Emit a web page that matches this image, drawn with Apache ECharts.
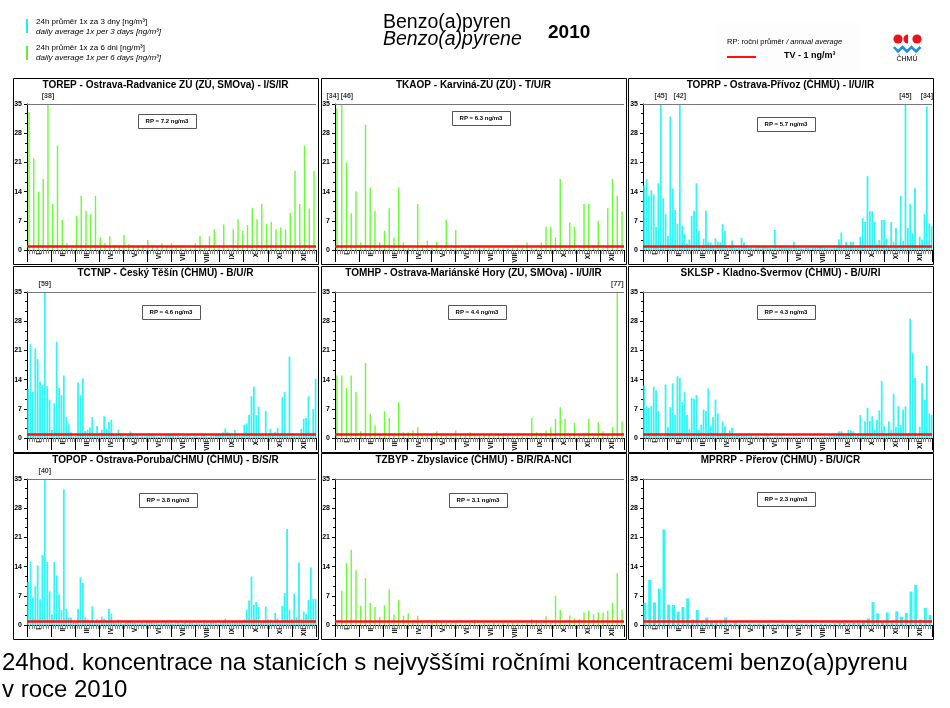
<!DOCTYPE html>
<html><head><meta charset="utf-8">
<script src="https://cdn.jsdelivr.net/npm/echarts@6/dist/echarts.min.js"></script>
<style>html,body{margin:0;padding:0;background:#fff}#c{width:950px;height:708px}</style>
</head><body><div id="c"></div>
<script>
// ---------- data ----------
const MONTHS = ['I','II','III','IV','V','VI','VII','VIII','IX','X','XI','XII'];
const TV = 1;            // target value ng/m3
const Y_MAX = 35, Y_STEP = 7;
const DAYS = 365;

// green stations: 24h average every 6th day (first sample on day index 2)
const TOREP = [33.0,22.0,14.0,17.1,38,11.0,25.0,7.2,1.6,0.5, 8.2,13.0,9.4,8.6,13.0,3.0,1.7,3.3,1.2,0.8,
  3.6,1.4,1.0,1.0,0.8,2.4,1.0,0.8,1.6,0.8, 1.6,0.6,0.6,0.4,0.4,1.6,3.4,0.6,3.3,5.0,
  0.4,6.1,0.4,5.0,7.4,4.6,6.0,10.0,7.4,11.0, 6.2,6.7,5.0,5.4,4.9,8.9,19.0,11.0,25.0,9.9,19.0];
const TKAOP = [34.0,46,21.0,8.8,14.0,1.8,30.0,15.0,9.4,1.8, 4.6,10.0,3.0,15.0,1.8,0.5,0.5,11.0,0.6,2.2,
  0.5,1.9,0.6,7.2,0.4,4.8,0.4,0.5,1.0,0.6, 0.6,0.5,0.5,0.5,0.5,0.4,0.4,0.5,0.6,0.5,
  1.8,0.5,0.4,1.8,5.6,5.6,3.0,17.0,0.4,6.6, 5.6,0.4,11.0,11.0,1.2,7.0,0.4,10.0,17.0,13.0,9.2];
const TOMHP = [15.0,15.0,12.0,15.0,11.0,1.6,18.0,5.8,3.0,1.0, 6.4,4.8,1.0,8.6,1.4,1.4,1.8,2.6,0.6,0.8,
  0.6,1.6,0.8,0.6,0.6,1.8,0.8,0.6,1.4,0.8, 0.6,0.6,0.7,0.4,0.8,0.8,0.4,0.4,0.4,0.4,
  0.4,4.8,1.4,1.2,1.8,2.6,4.6,7.4,4.6,0.8, 3.6,0.6,0.6,4.6,0.4,3.8,1.6,0.8,2.6,77,4.0];
const TZBYP = [0.5,8.2,14.8,18.0,13.1,4.6,11.3,5.3,4.3,1.9, 4.7,8.6,2.5,6.0,2.2,2.8,1.0,2.2,0.8,0.2,
  0.8,1.2,0.6,0.4,0.4,0.4,0.2,0.2,0.4,1.2, 0.2,0.4,0.2,0.4,0.4,0.4,0.4,0.4,0.4,0.2,
  0.4,1.4,1.2,0.4,2.1,0.4,7.0,3.6,0.2,2.3, 1.6,1.4,3.0,3.5,2.6,3.0,3.0,3.5,5.3,12.4,3.7];

// cyan stations: 24h average every 3rd day (first sample on day index 1)
const TOPRP = [15.5,17.0,13.0,14.3,13.3,5.6,16.0,45,12.4,8.6,
  3.4,32.0,14.7,9.6,6.3,42,5.8,3.9,1.6,2.5,
  8.2,9.4,16.0,4.6,1.0,2.7,9.4,1.8,1.8,1.2,
  2.8,2.0,1.8,6.2,4.6,0.5,0.6,2.3,0.5,0.4,
  0.5,2.9,1.8,0.6,0.5,0.5,0.4,0.5,0.6,0.4,
  0.6,0.6,0.5,0.5,0.4,4.8,0.4,0.6,0.7,0.5,
  0.6,0.6,0.5,2.0,0.5,0.6,0.4,0.4,0.5,0.6,0.4,
  0.5,0.5,0.6,0.7,0.6,0.5,0.4,0.5,0.4,0.6,
  0.5,2.5,4.2,0.6,2.0,0.8,2.0,2.0,0.6,0.8,
  3.2,7.7,6.7,17.7,9.3,9.3,6.7,1.4,2.4,7.2,
  7.2,2.8,1.0,6.7,2.0,5.3,1.0,13.0,2.2,45,
  5.3,11.0,4.0,14.8,1.0,3.2,2.5,8.6,34.4,6.4,5.7];
const TCTNP = [11.8,22.5,11.0,21.5,18.9,13.5,12.7,59,12.4,9.2,
  1.9,8.3,23.0,12.0,10.3,15.0,5.0,3.3,1.4,0.4,
  0.5,13.3,10.3,14.3,1.7,1.9,2.6,5.0,1.2,2.9,
  1.2,2.0,5.2,2.2,3.9,4.4,0.8,0.6,2.0,1.0,
  0.5,0.4,0.8,1.6,1.0,0.4,0.8,0.3,0.5,0.4,
  0.6,1.0,0.9,0.5,0.4,0.3,0.5,0.4,0.6,0.8,
  0.6,0.5,0.4,0.5,0.3,0.5,0.4,0.6,0.4,0.3,0.5,
  0.4,0.3,0.5,0.7,0.4,0.3,0.6,0.5,0.8,1.0,
  1.0,1.4,2.3,1.4,0.8,0.5,1.9,1.0,0.6,0.5,
  3.2,3.5,5.6,10.0,12.3,5.5,7.5,1.0,0.8,6.5,
  1.0,2.2,1.0,1.4,2.4,0.8,9.8,11.0,0.6,19.5,
  0.5,0.6,0.4,0.5,2.2,4.6,4.8,10.0,1.0,6.9,14.2];
const SKLSP = [12.6,7.6,7.2,7.7,12.3,11.4,6.5,0.6,0.4,12.8,
  2.6,7.4,13.1,5.6,14.8,14.4,8.6,11.0,5.6,2.1,
  9.6,9.4,10.3,1.9,3.2,6.8,6.5,11.9,3.0,5.0,
  9.2,5.9,1.0,4.0,2.8,1.1,1.8,2.4,0.6,0.8,
  0.9,0.6,0.5,0.8,0.4,0.6,0.3,0.5,0.4,0.3,
  0.3,0.4,0.6,0.3,0.2,0.3,0.4,0.2,0.3,0.2,
  0.2,0.3,0.2,0.3,0.2,0.2,0.3,0.2,0.2,0.3,0.2,
  0.2,0.3,0.2,0.2,0.3,0.4,0.3,0.5,0.4,0.5,
  0.6,1.6,1.6,0.8,0.6,1.9,1.8,1.6,0.6,1.0,
  5.5,1.0,4.0,7.2,4.1,5.2,2.0,4.3,6.6,13.7,
  2.8,1.0,4.0,2.0,10.6,2.6,7.6,3.1,6.8,7.6,
  1.0,28.6,20.5,14.4,0.6,2.7,13.1,9.1,17.3,5.9,5.5];
const TOPOP = [10.3,15.2,6.6,9.4,14.3,6.2,16.8,40,15.1,8.1,
  2.6,15.1,11.9,7.4,3.6,32.5,3.9,1.8,1.8,0.5,
  0.5,3.9,11.4,10.1,1.8,1.3,0.8,4.5,0.8,1.3,
  1.0,2.0,1.5,0.7,3.9,2.7,0.6,0.4,1.3,0.5,
  0.3,0.5,0.8,1.2,0.6,0.5,0.4,0.3,0.5,0.4,
  0.6,0.7,0.5,0.4,0.6,0.3,0.5,0.4,0.6,0.5,
  0.4,0.3,0.4,0.5,0.3,0.4,0.6,0.3,0.5,0.4,0.3,
  0.5,0.4,0.3,0.5,0.4,0.3,0.5,0.6,0.4,0.3,
  0.5,0.8,1.5,0.6,0.5,0.7,0.9,0.6,0.5,0.8,
  1.3,3.7,5.9,11.6,4.8,5.5,4.3,1.0,0.7,4.5,
  1.3,1.3,0.6,2.9,1.5,0.8,4.6,7.7,23.0,3.7,
  1.4,7.5,1.8,15.0,1.4,3.2,2.7,6.0,13.8,6.3,6.2];
// Přerov: every 6th day
const MPRRP = [5.3,10.8,5.4,8.7,22.9, 4.9,4.8,3.2,4.3,6.4, 1.3,3.6,1.0,1.8,0.9,
  0.8,0.7,1.8,0.3,0.8, 0.3,0.2,0.3,0.2,0.3, 0.2,0.3,0.2,0.2,0.3,
  0.2,0.2,0.3,0.2,0.2, 0.2,0.2,0.3,0.2,0.2, 0.4,0.6,0.5,0.4,0.5,0.5,
  0.7,1.6,5.5,2.8,0.8,3.0, 0.8,3.3,2.0,2.9, 8.0,9.6,1.3,4.1,2.4];

const TITLES = [
  'TOREP - Ostrava-Radvanice ZÚ (ZÚ, SMOva) - I/S/IR',
  'TKAOP - Karviná-ZÚ (ZÚ) - T/U/R',
  'TOPRP - Ostrava-Přívoz (ČHMÚ) - I/U/IR',
  'TCTNP - Český Těšín (ČHMÚ) - B/U/R',
  'TOMHP - Ostrava-Mariánské Hory (ZÚ, SMOva) - I/U/IR',
  'SKLSP - Kladno-Švermov (ČHMÚ) - B/U/RI',
  'TOPOP - Ostrava-Poruba/ČHMÚ (ČHMÚ) - B/S/R',
  'TZBYP - Zbyslavice (ČHMÚ) - B/R/RA-NCI',
  'MPRRP - Přerov (ČHMÚ) - B/U/CR'
];
const RP = ['7.2','6.3','5.7','4.6','4.4','4.3','3.8','3.1','2.3'];
const SERIES = [TOREP, TKAOP, TOPRP, TCTNP, TOMHP, SKLSP, TOPOP, TZBYP, MPRRP];
const STEP = [6,6,3,3,6,3,3,6,6];
const FIRST_DAY = [2,2,1,1,2,1,1,2,2];
const KIND = ['g','g','c','c','g','c','c','g','w'];
const LABEL_FROM = 34;   // values >= this get a [value] tag above the top line

// ---------- layout / style ----------
const GREEN = '#66ff33', CYAN = '#33f5f5';
const COL_L = [27, 335, 643], ROW_T = [104, 292, 479];
const PW = 289, PH = 146;
const BOX_L = [13, 321, 628], BOX_T = [78, 266, 453], BOX_W = 305, BOX_H = 186;
const RP_POS = [[138,114],[452,111],[757,117],[142,305],[448,305],[757,305],[139,493],[449,493],[757,492]];
const FONT = 'Liberation Sans, Arial, sans-serif';
const CLOSE_DAYS = 10;   // tags closer than this are pushed apart

const grid = [], xAxis = [], yAxis = [], series = [], graphic = [];
for (let i = 0; i < 9; i++) {
  const c = i % 3, r = Math.floor(i / 3);
  grid.push({left: COL_L[c], top: ROW_T[r], width: PW, height: PH});
  xAxis.push({type:'value', gridIndex:i, min:0, max:DAYS, interval:3, position:'bottom',
    axisLine:{show:true, onZero:false, lineStyle:{color:'#000', width:1}},
    axisTick:{show:true, length:4, lineStyle:{color:'#888', width:1}},
    axisLabel:{show:false}, splitLine:{show:false}});
  xAxis.push({type:'category', gridIndex:i, data:MONTHS, boundaryGap:true, position:'bottom',
    axisLine:{show:false, onZero:false},
    axisTick:{show:true, length:12, lineStyle:{color:'#000', width:1}},
    axisLabel:{rotate:90, fontSize:6.5, fontWeight:'bold', color:'#000', margin:3, fontFamily:FONT},
    splitLine:{show:false}});
  yAxis.push({type:'value', gridIndex:i, min:0, max:Y_MAX, interval:Y_STEP,
    axisLine:{show:true, lineStyle:{color:'#000', width:1}},
    axisTick:{show:true, length:3, lineStyle:{color:'#000'}},
    minorTick:{show:true, splitNumber:3, length:2, lineStyle:{color:'#000'}},
    axisLabel:{fontSize:7, fontWeight:'bold', color:'#000', margin:5, fontFamily:FONT},
    splitLine:{show:false}});
  const vals = SERIES[i];
  const days = vals.map((v, k) => FIRST_DAY[i] + k * STEP[i] + 0.5);
  const data = vals.map((v, k) => [days[k], Math.min(v, Y_MAX)]);
  const tags = [];
  vals.forEach((v, k) => { if (v >= LABEL_FROM) tags.push({day:days[k], raw:v}); });
  const tagData = tags.map((t, k) => {
    const lab = {formatter:'[' + Math.round(t.raw) + ']'};
    if (k + 1 < tags.length && tags[k+1].day - t.day < CLOSE_DAYS) { lab.align = 'right'; lab.offset = [2, 0]; }
    if (k > 0 && t.day - tags[k-1].day < CLOSE_DAYS) { lab.align = 'left'; lab.offset = [-1, 0]; }
    return {value:[t.day, Y_MAX], label:lab};
  });
  series.push({type:'bar', xAxisIndex:2*i, yAxisIndex:i, data,
    barWidth: KIND[i] === 'g' ? 1.4 : (KIND[i] === 'c' ? 1.8 : 3),
    itemStyle:{color: KIND[i] === 'g' ? GREEN : CYAN},
    markLine:{silent:true, symbol:'none', animation:false, label:{show:false},
      data:[
        {yAxis:Y_MAX, lineStyle:{color:'#777', width:1, type:'solid'}},
        {yAxis:TV, lineStyle:{color:'#ff1010', width:2.5, type:'solid'}}
      ]},
    animation:false});
  series.push({type:'scatter', xAxisIndex:2*i, yAxisIndex:i, symbolSize:0, silent:true,
    data:tagData,
    label:{show:true, position:'top', distance:4, fontSize:7, fontWeight:'bold', color:'#000', fontFamily:FONT},
    animation:false});
  // panel frame
  graphic.push({type:'rect', shape:{x:BOX_L[c]+0.5, y:BOX_T[r]+0.5, width:BOX_W, height:BOX_H},
    style:{fill:null, stroke:'#000', lineWidth:1}, z:1});
  // panel title
  graphic.push({type:'text', style:{text:TITLES[i], x:BOX_L[c] + BOX_W/2, y:BOX_T[r] + 7,
    textAlign:'center', textVerticalAlign:'middle', font:'bold 10px ' + FONT, fill:'#000'}});
  // RP box
  const [bx, by] = RP_POS[i];
  graphic.push({type:'rect', shape:{x:bx+0.5, y:by+0.5, width:58, height:14},
    style:{fill:'#fff', stroke:'#555', lineWidth:1}});
  graphic.push({type:'text', style:{text:'RP = ' + RP[i] + ' ng/m3', x:bx + 29, y:by + 7.5,
    textAlign:'center', textVerticalAlign:'middle', font:'bold 6px "Liberation Sans Narrow", ' + FONT, fill:'#000'}});
}

// header: legend left
graphic.push({type:'line', shape:{x1:27, y1:19, x2:27, y2:33}, style:{stroke:'#22eeee', lineWidth:2}});
graphic.push({type:'text', style:{text:'24h průměr 1x za 3 dny [ng/m³]', x:36, y:22, textVerticalAlign:'middle', font:'8px ' + FONT, fill:'#000'}});
graphic.push({type:'text', style:{text:'daily average 1x per 3 days [ng/m³]', x:36, y:32, textVerticalAlign:'middle', font:'italic 8px ' + FONT, fill:'#000'}});
graphic.push({type:'line', shape:{x1:27, y1:46, x2:27, y2:60}, style:{stroke:'#66ee33', lineWidth:2}});
graphic.push({type:'text', style:{text:'24h průměr 1x za 6 dni [ng/m³]', x:36, y:48, textVerticalAlign:'middle', font:'8px ' + FONT, fill:'#000'}});
graphic.push({type:'text', style:{text:'daily average 1x per 6 days [ng/m³]', x:36, y:58, textVerticalAlign:'middle', font:'italic 8px ' + FONT, fill:'#000'}});
// main title
graphic.push({type:'text', style:{text:'Benzo(a)pyren', x:383, y:23, textVerticalAlign:'middle', font:'19.5px ' + FONT, fill:'#000'}});
graphic.push({type:'text', style:{text:'Benzo(a)pyrene', x:383, y:40, textVerticalAlign:'middle', font:'italic 19.5px ' + FONT, fill:'#000'}});
graphic.push({type:'text', style:{text:'2010', x:548, y:33, textVerticalAlign:'middle', font:'bold 19px ' + FONT, fill:'#000'}});
// right legend
graphic.push({type:'rect', shape:{x:715, y:22, width:145, height:50}, style:{fill:'#fdfdfd', stroke:null}, z:0});
graphic.push({type:'text', style:{rich:{a:{font:'7.5px ' + FONT, fill:'#000'}, b:{font:'italic 7.5px ' + FONT, fill:'#000'}},
  text:'{a|RP: roční průměr }{b|/ annual average}', x:727, y:42, textVerticalAlign:'middle'}});
graphic.push({type:'line', shape:{x1:727, y1:57, x2:756, y2:57}, style:{stroke:'#ff1010', lineWidth:2}});
graphic.push({type:'text', style:{text:'TV - 1 ng/m³', x:784, y:56, textVerticalAlign:'middle', font:'bold 9px ' + FONT, fill:'#000'}});
// logo
graphic.push({type:'circle', shape:{cx:898, cy:39, r:4.6}, style:{fill:'#e8141b'}});
graphic.push({type:'sector', shape:{cx:908, cy:39, r:4.6, r0:0, startAngle:Math.PI/2, endAngle:Math.PI*3/2}, style:{fill:'#e8141b'}});
graphic.push({type:'circle', shape:{cx:917, cy:39, r:4.6}, style:{fill:'#e8141b'}});
graphic.push({type:'polyline', shape:{points:[[894,47],[898,51.5],[902.5,47],[907,51.5],[911.5,47],[916,51.5],[920.5,47]]}, style:{stroke:'#1b8fe8', lineWidth:2.5, fill:null}});
graphic.push({type:'text', style:{text:'ČHMÚ', x:907, y:59, textAlign:'center', textVerticalAlign:'middle', font:'7px ' + FONT, fill:'#000'}});
// caption
graphic.push({type:'text', style:{text:'24hod. koncentrace na stanicích s nejvyššími ročními koncentracemi benzo(a)pyrenu', x:2, y:663, textVerticalAlign:'middle', font:'24px ' + FONT, fill:'#000'}});
graphic.push({type:'text', style:{text:'v roce 2010', x:2, y:690, textVerticalAlign:'middle', font:'24px ' + FONT, fill:'#000'}});

const chart = echarts.init(document.getElementById('c'), null, {renderer:'canvas', width:950, height:708});
chart.setOption({animation:false, backgroundColor:'#fff', grid, xAxis, yAxis, series, graphic});
</script></body></html>
